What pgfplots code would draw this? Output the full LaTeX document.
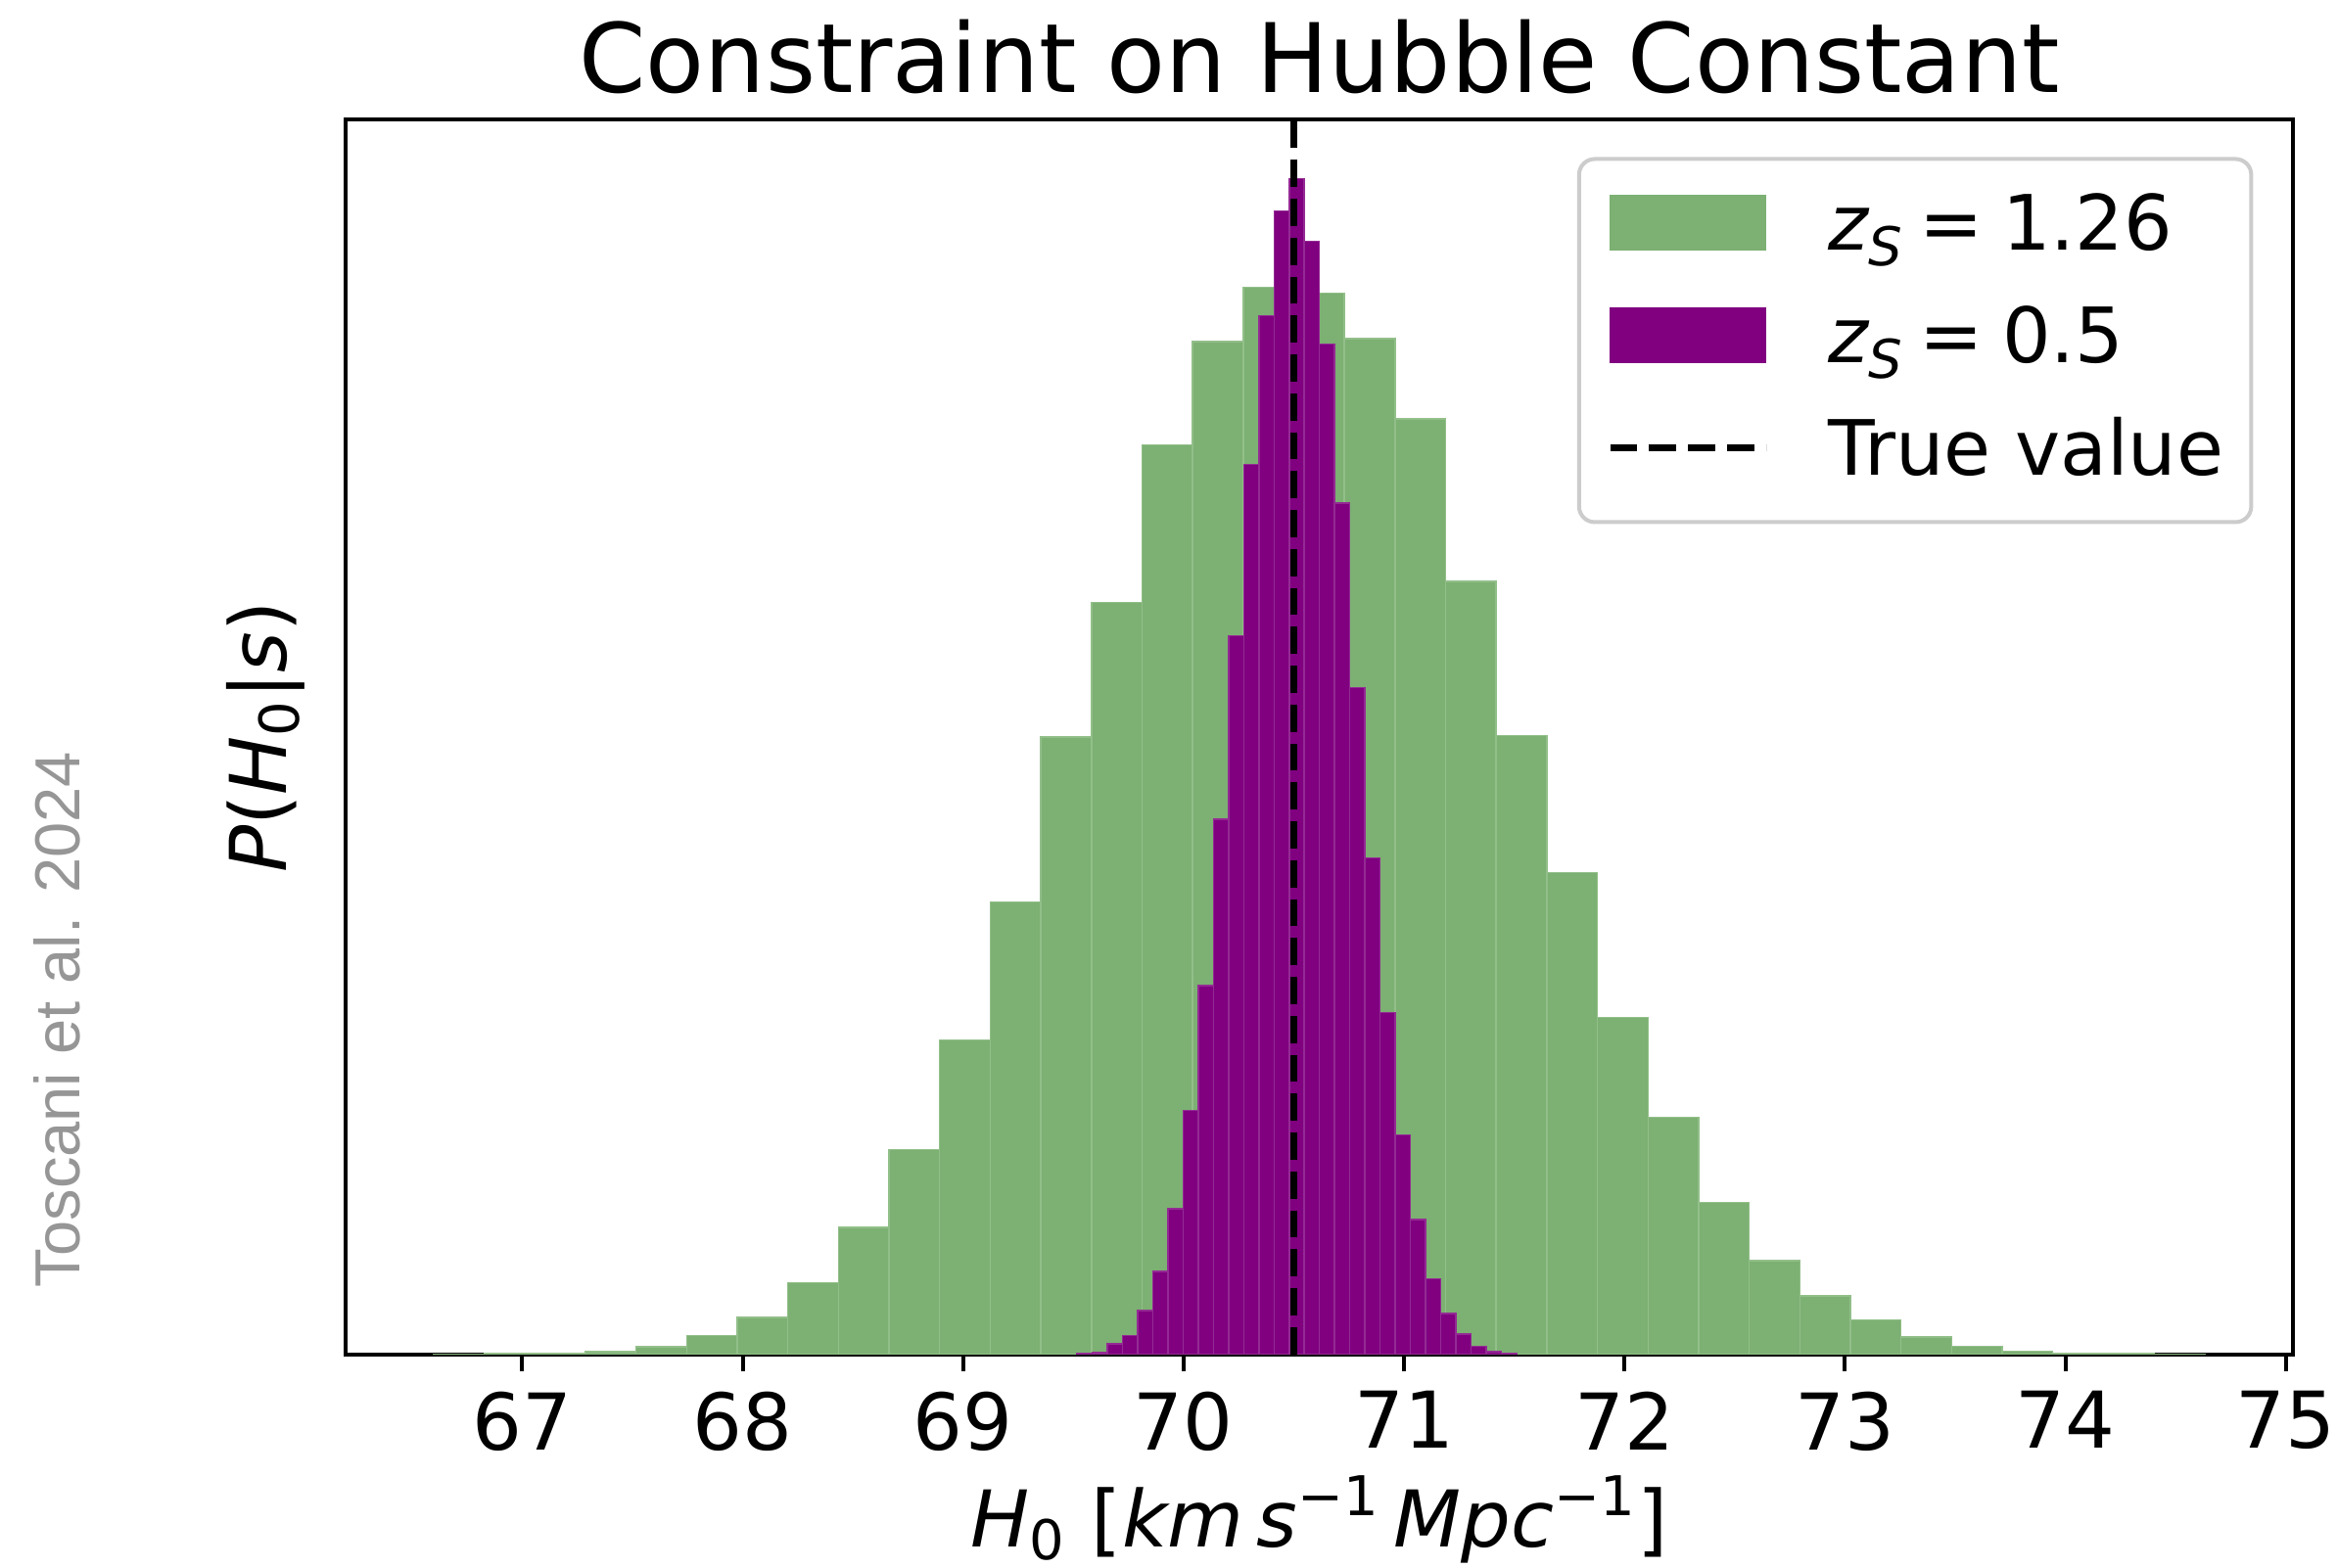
\documentclass[border=0pt]{standalone}
\usepackage{fontspec}
\setmainfont{DejaVu Sans}
\newfontfamily\creditfont{Liberation Sans}
\usepackage{pgfplots}
\pgfplotsset{compat=1.18}

\definecolor{histgreen}{RGB}{125,176,115}
\definecolor{histgreenedge}{RGB}{146,191,137}
\definecolor{histpurple}{RGB}{128,0,128}
\definecolor{histpurpleedge}{RGB}{148,42,148}
\definecolor{legendframe}{RGB}{204,204,204}
\definecolor{credit}{RGB}{150,150,150}

\newcommand{\lblfont}{\fontsize{16}{19}\selectfont}
\newcommand{\zs}[1]{{\itshape z}\textsubscript{\itshape S}\hspace{3pt}=\hspace{3.8pt}#1}

% Posterior samples of H0, binned (bin centres, counts in arbitrary units)
\pgfplotstableread{
x        y
66.7133  0.2
66.9428  0.4
67.1723  1
67.4018  3
67.6313  9
67.8608  23
68.0903  45
68.3198  88
68.5493  156
68.7788  252
69.0083  387
69.2378  557
69.4673  760
69.6968  926
69.9263  1120
70.1558  1247
70.3853  1314
70.6148  1307
70.8443  1251
71.0738  1152
71.3033  952
71.5328  762
71.7623  593
71.9918  415
72.2213  292
72.4508  187
72.6803  115
72.9098  72
73.1393  42
73.3688  21
73.5983  10
73.8278  4
74.0573  1
74.2868  0.4
74.5163  0.2
}\histhigh

\pgfplotstableread{
x        y
69.5516  0.5
69.6203  2
69.6890  13
69.7577  23
69.8264  54
69.8951  102
69.9638  179
70.0325  300
70.1012  454
70.1699  659
70.2386  885
70.3073  1096
70.3760  1279
70.4447  1408
70.5134  1448
70.5821  1371
70.6508  1244
70.7195  1048
70.7882  821
70.8569  611
70.9256  421
70.9943  270
71.0630  166
71.1317  93
71.2004  50
71.2691  25
71.3378  10
71.4065  3
71.4752  0.5
}\histlow

\begin{document}
\begin{tikzpicture}
\useasboundingbox (-70.68pt,-43.68pt) rectangle (406.72pt,276.72pt);
\begin{axis}[
  scale only axis, width=397.64pt, height=252.24pt,
  xmin=66.201, xmax=75.030, ymin=0, ymax=1520.4,
  xtick={67,...,75}, ytick=\empty,
  xtick pos=left, tick align=outside, major tick length=3.5pt,
  tick style={black, line width=0.8pt},
  axis line style={black, line width=0.8pt},
  /pgf/number format/assume math mode=true,
  xticklabel style={font=\lblfont, anchor=north, inner sep=0pt, yshift=-3.92pt},
  title={Constraint on Hubble Constant},
  title style={at={(axis description cs:0.5,0.99865)}, anchor=base, inner sep=0pt,
               font=\fontsize{19.6}{23}\selectfont},
  xlabel={{\itshape H}\textsubscript{0} [{\itshape km\,s}\textsuperscript{−1}\,{\itshape Mpc}\textsuperscript{−1}]},
  xlabel style={at={(axis description cs:0.5,-0.15580)}, anchor=base, inner sep=0pt, font=\lblfont},
  ylabel={{\itshape P}({\itshape H}\textsubscript{0}|{\itshape s})},
  ylabel style={at={(axis description cs:-0.03043,0.5)}, anchor=base, inner sep=0pt, font=\lblfont},
  legend style={
    at={(axis description cs:0.97978,0.96979)}, anchor=north east,
    draw=legendframe, line width=0.8pt, rounded corners=3.2pt, fill=white,
    inner xsep=5.6pt, inner ysep=6.1pt,
    row sep=7pt, column sep=12.1pt,
    font=\fontsize{15.6}{19}\selectfont,
    cells={anchor=base west},
    nodes={inner sep=0pt, text height=12.5pt, text depth=3.5pt, anchor=base west},
  },
]
\addplot[ybar, bar width=0.2295, bar shift=0pt, fill=histgreen, draw=histgreenedge,
  line width=0.3pt,
  legend image code/.code={\fill[histgreen, sharp corners] (0pt,0pt) rectangle (31.8pt,11.1pt);}]
  table[x=x, y=y] {\histhigh};
\addlegendentry{\zs{1.26}}

\addplot[ybar, bar width=0.0687, bar shift=0pt, fill=histpurple, draw=histpurpleedge,
  line width=0.3pt,
  legend image code/.code={\fill[histpurple, sharp corners] (0pt,0pt) rectangle (31.8pt,11.1pt);}]
  table[x=x, y=y] {\histlow};
\addlegendentry{\zs{0.5}}

\addplot[black, line width=1.5pt, dash pattern=on 5.55pt off 2.4pt,
  legend image code/.code={\draw[black, line width=1.5pt, dash pattern=on 5.55pt off 2.4pt, sharp corners] (0pt,5.64pt) -- (31.8pt,5.64pt);}]
  coordinates {(70.5,0) (70.5,1520.4)};
\addlegendentry{True value}
\end{axis}
\node[rotate=90, anchor=base, inner sep=0pt, text=credit,
      font=\creditfont\fontsize{13}{15}\selectfont] at (-54.34pt,68.32pt) {Toscani et al. 2024};
\end{tikzpicture}
\end{document}
